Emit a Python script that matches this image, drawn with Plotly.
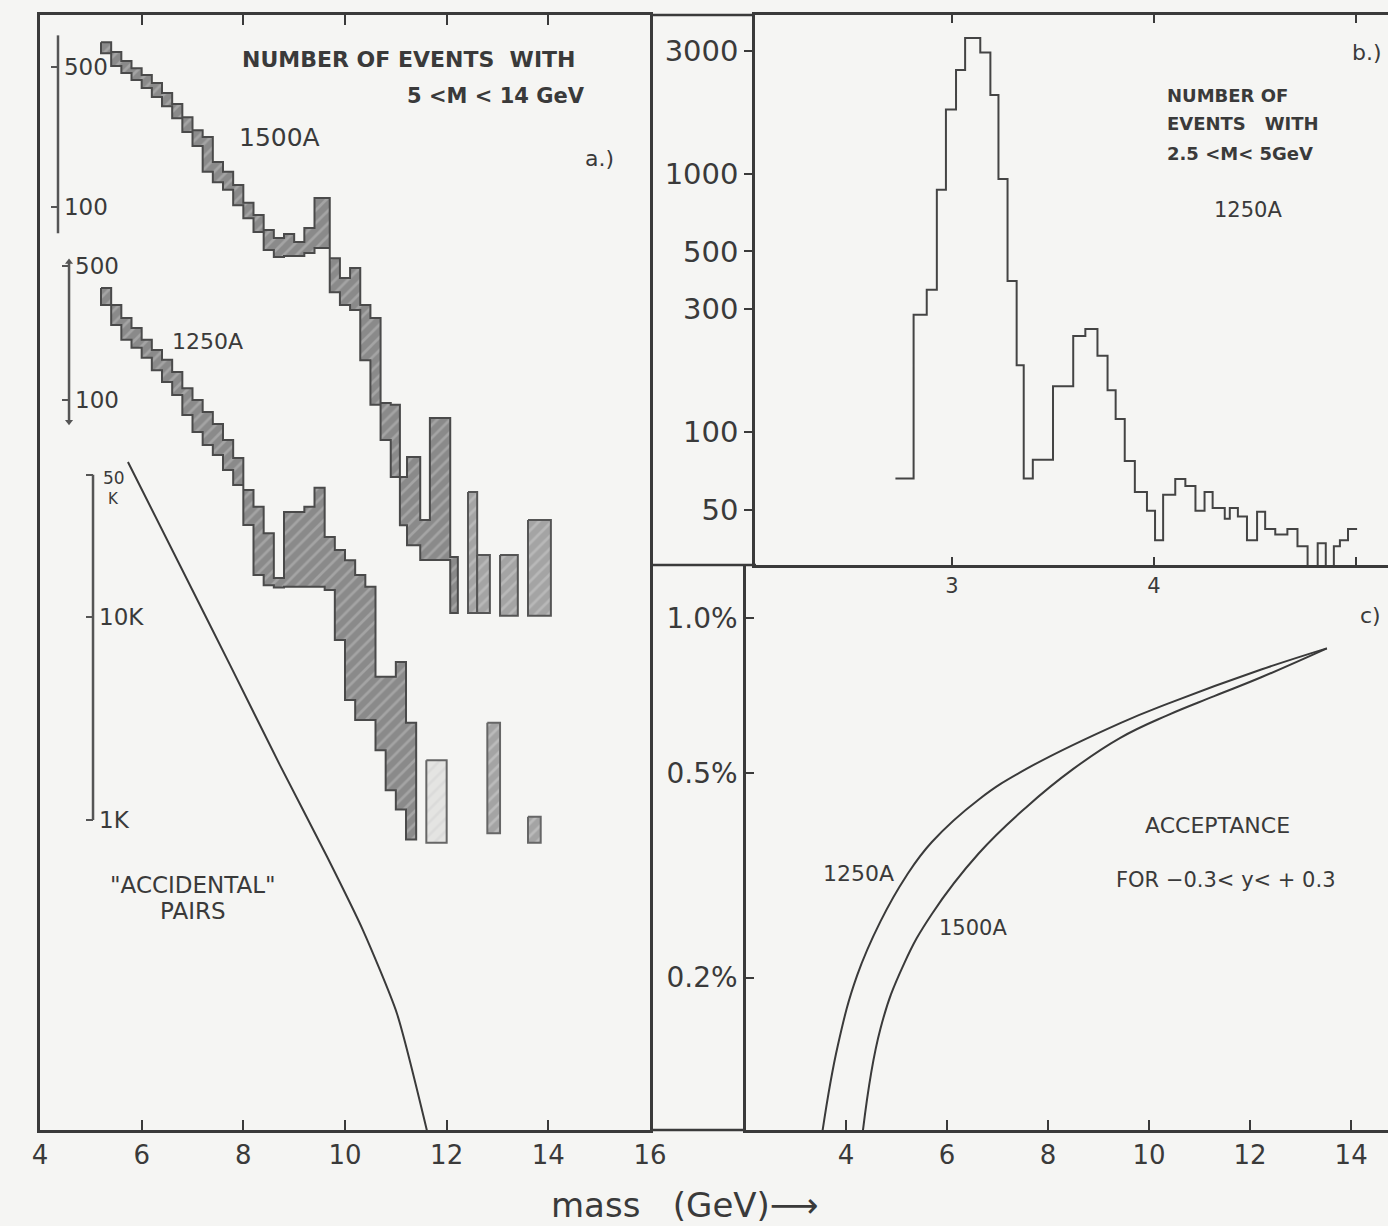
import numpy as np
import plotly.graph_objects as go

W, H = 1388, 1226
INK = '#3a3a3a'
FONT = 'DejaVu Sans'
PAPER = '#f5f5f3'

# ---------------- panel a: events with 5 < M < 14 GeV ----------------
# 1500A setting: shaded band between lower and upper count per mass bin
m1500_edges = [5.2, 5.4, 5.6, 5.8, 6.0, 6.2, 6.4, 6.6, 6.8, 7.0, 7.2, 7.4, 7.6, 7.8,
               8.0, 8.2, 8.4, 8.6, 8.8, 9.0, 9.2, 9.4, 9.7, 9.9, 10.1, 10.3, 10.5,
               10.7, 10.9, 11.08, 11.22, 11.48, 11.67, 12.07, 12.22]
n1500_hi = [666, 594, 536, 494, 456, 416, 371, 327, 281, 242, 224, 168, 150, 129,
            105, 91.2, 76.8, 70, 73.3, 66.9, 78.6, 111, 55.6, 44.2, 49.6, 32.4, 27.9,
            10.5, 10.3, 4.49, 5.65, 2.74, 8.84, 1.79]
n1500_lo = [587, 506, 467, 431, 393, 354, 319, 278, 237, 202, 150, 133, 122, 102,
            88, 75, 61, 56.3, 56.9, 56.9, 58.9, 62.4, 37.6, 32.4, 30.6, 17.2, 10.3,
            6.87, 4.49, 2.58, 2.05, 1.73, 1.73, 0.94]
# isolated high-mass bins (1500A)
m1500_bar_lo = [12.42, 12.60, 13.05, 13.60]
m1500_bar_hi = [12.60, 12.85, 13.40, 14.05]
n1500_bar_top = [3.78, 1.83, 1.83, 2.74]
n1500_bar_bot = [0.94, 0.94, 0.91, 0.91]

# 1250A setting
m1250_edges = [5.2, 5.4, 5.6, 5.8, 6.0, 6.2, 6.4, 6.6, 6.8, 7.0, 7.2, 7.4, 7.6, 7.8,
               8.0, 8.2, 8.4, 8.6, 8.8, 9.0, 9.2, 9.4, 9.6, 9.8, 10.0, 10.2, 10.4,
               10.6, 10.8, 11.0, 11.2, 11.4]
n1250_hi = [384, 313, 268, 237, 206, 182, 162, 140, 115, 100, 86.6, 75, 61.8, 49.8,
            33.9, 27.7, 20.2, 11.8, 26, 26, 27.7, 34.8, 19.3, 16.5, 14.6, 12.2, 10.6,
            3.6, 3.6, 4.3, 2.07]
n1250_lo = [313, 246, 206, 187, 166, 143, 124, 106, 83.5, 68, 58.3, 51.7, 43.1, 36,
            22.3, 12.2, 10.8, 10.5, 10.6, 10.6, 10.6, 10.6, 10.2, 5.6, 2.72, 2.14, 2.14,
            1.49, 0.92, 0.73, 0.51]
m1250_bar_lo = [11.60, 12.80, 13.60]
m1250_bar_hi = [12.00, 13.05, 13.85]
n1250_bar_top = [1.32, 2.07, 0.67]
n1250_bar_bot = [0.49, 0.55, 0.49]

# "accidental" pairs estimate
m_acc = [5.73, 6.75, 7.74, 8.72, 9.65, 10.35, 11.02, 11.61]
n_acc = [57700, 17960, 5780, 1862, 657, 288, 112, 29.8]

# vertical scale bars of panel a (extent in each series' own units)
scale1500 = [74, 720]
scale1250 = [77, 525]
scale_acc = [1000, 50000]
scale_mass = [4.354, 4.571, 5.043]   # mass position of each bar

# ---------------- panel b: events with 2.5 < M < 5 GeV (1250A) ----------------
b_edges = [2.72, 2.81, 2.875, 2.925, 2.97, 3.02, 3.065, 3.14, 3.19, 3.23, 3.275, 3.32,
           3.355, 3.40, 3.50, 3.60, 3.66, 3.72, 3.77, 3.81, 3.855, 3.905, 3.965, 4.005,
           4.045, 4.105, 4.155, 4.205, 4.25, 4.29, 4.35, 4.375, 4.415, 4.46, 4.51, 4.55,
           4.60, 4.66, 4.71, 4.76, 4.81, 4.85, 4.89, 4.92, 4.96, 5.005]
b_counts = [66, 284, 355, 866, 1774, 2525, 3360, 2950, 2020, 955, 384, 181, 66, 78,
            150, 235, 250, 197, 145, 112, 77, 58.5, 49.4, 38, 57, 65.6, 61.7, 49.4,
            58.5, 50.7, 46, 50.7, 47, 38, 49, 42, 40, 42, 36, 29, 37, 29, 36, 38, 42]

# ---------------- panel c: acceptance for -0.3 < y < +0.3 (percent) ----------------
c_mass_1250 = [3.53, 3.84, 4.22, 4.68, 5.20, 5.70, 6.63, 7.57, 9.43, 10.36, 12.22, 13.52]
c_acc_1250 = [0.100, 0.148, 0.202, 0.257, 0.316, 0.367, 0.444, 0.509, 0.625, 0.681, 0.794, 0.873]
c_mass_1500 = [4.33, 4.68, 5.15, 5.70, 6.63, 7.57, 8.50, 9.43, 10.36, 11.29, 12.22, 13.52]
c_acc_1500 = [0.100, 0.159, 0.213, 0.266, 0.349, 0.429, 0.509, 0.585, 0.647, 0.705, 0.767, 0.873]


def px_x(px):
    return px / W


def px_y(py):
    return 1 - py / H


XA = [px_x(40), px_x(650)]
YA = [px_y(1130), px_y(15)]
XB = [px_x(755), 1.0]
YB = [px_y(565), px_y(15)]
XC = [px_x(746), 1.0]
YC = [px_y(1130), px_y(565)]

RANGE_1500 = [-2.608, 2.959]
RANGE_1250 = [-1.808, 4.008]
RANGE_ACC = [1.475, 6.960]


def band_polygon(edges, hi, lo):
    xs, ys = [], []
    for i in range(len(hi)):
        xs += [edges[i], edges[i + 1]]
        ys += [hi[i], hi[i]]
    for i in reversed(range(len(lo))):
        xs += [edges[i + 1], edges[i]]
        ys += [lo[i], lo[i]]
    xs.append(xs[0])
    ys.append(ys[0])
    return xs, ys


def hatched(xs, ys, yaxis, bg, fg, edge):
    return go.Scatter(
        x=xs, y=ys, xaxis='x', yaxis=yaxis, mode='lines', fill='toself',
        line=dict(color=edge, width=2), fillcolor=bg,
        fillpattern=dict(shape='/', bgcolor=bg, fgcolor=fg, size=9, solidity=0.3),
        hoverinfo='skip')


fig = go.Figure()

# 1500A band and isolated bins
xs, ys = band_polygon(m1500_edges, n1500_hi, n1500_lo)
fig.add_trace(hatched(xs, ys, 'y', '#8a8a8a', '#bdbdbd', '#4a4a4a'))
for lo, hi, top, bot in zip(m1500_bar_lo, m1500_bar_hi, n1500_bar_top, n1500_bar_bot):
    xs, ys = band_polygon([lo, hi], [top], [bot])
    fig.add_trace(hatched(xs, ys, 'y', '#a4a4a4', '#cccccc', '#555555'))

# 1250A band and isolated bins
xs, ys = band_polygon(m1250_edges, n1250_hi, n1250_lo)
fig.add_trace(hatched(xs, ys, 'y5', '#8a8a8a', '#bdbdbd', '#4a4a4a'))
bar_fill_1250 = ['#e4e4e2', '#a4a4a4', '#a4a4a4']
for (lo, hi, top, bot), bg in zip(zip(m1250_bar_lo, m1250_bar_hi, n1250_bar_top, n1250_bar_bot), bar_fill_1250):
    xs, ys = band_polygon([lo, hi], [top], [bot])
    fig.add_trace(hatched(xs, ys, 'y5', bg, '#d2d2d2', '#666666'))

# accidental pairs curve
fig.add_trace(go.Scatter(x=m_acc, y=n_acc, xaxis='x', yaxis='y6', mode='lines',
                         line=dict(color=INK, width=2, shape='spline', smoothing=0.6),
                         hoverinfo='skip'))

# scale bars
for m, ext, ax in zip(scale_mass, [scale1500, scale1250, scale_acc], ['y4', 'y5', 'y6']):
    fig.add_trace(go.Scatter(x=[m, m], y=ext, xaxis='x', yaxis=ax, mode='lines',
                             line=dict(color='#555555', width=2.5), hoverinfo='skip'))
fig.add_trace(go.Scatter(x=[scale_mass[1], scale_mass[1]], y=scale1250, xaxis='x', yaxis='y5',
                         mode='markers', marker=dict(symbol=['triangle-down', 'triangle-up'],
                                                     size=7, color='#555555'),
                         hoverinfo='skip'))

# panel b histogram
fig.add_trace(go.Scatter(x=b_edges, y=b_counts + [b_counts[-1]], xaxis='x2', yaxis='y2',
                         mode='lines', line=dict(color='#444444', width=2, shape='hv'),
                         hoverinfo='skip'))

# panel c acceptance curves
for mx, ay in [(c_mass_1250, c_acc_1250), (c_mass_1500, c_acc_1500)]:
    fig.add_trace(go.Scatter(x=mx, y=ay, xaxis='x3', yaxis='y3', mode='lines',
                             line=dict(color=INK, width=2, shape='spline', smoothing=1.2),
                             hoverinfo='skip'))

tickfont = dict(family=FONT, size=26, color=INK)
common = dict(showgrid=False, zeroline=False, linecolor=INK, linewidth=2.5,
              tickcolor=INK, tickwidth=2, automargin=False)


def pos_of(m):
    return XA[0] + (m - 4) / 12 * (XA[1] - XA[0])


scale_axis = dict(showgrid=False, zeroline=False, showline=False, type='log',
                  overlaying='y', anchor='free', side='right', ticks='inside',
                  ticklen=7, tickwidth=2, tickcolor='#555555', automargin=False,
                  ticklabelstandoff=5,
                  tickfont=dict(family=FONT, size=23, color=INK))

fig.update_layout(
    width=W, height=H, autosize=False,
    margin=dict(l=0, r=0, t=0, b=0, pad=0, autoexpand=False),
    paper_bgcolor=PAPER, plot_bgcolor='rgba(0,0,0,0)', showlegend=False,
    xaxis=dict(domain=XA, range=[4, 16], anchor='y', tickvals=[4, 6, 8, 10, 12, 14, 16],
               ticks='inside', ticklen=10, showline=True, mirror='ticks',
               tickfont=tickfont, **common),
    yaxis=dict(domain=YA, type='log', range=RANGE_1500, anchor='x', showline=True,
               mirror=True, ticks='', showticklabels=False, **common),
    yaxis4=dict(range=RANGE_1500, position=pos_of(scale_mass[0]),
                tickvals=[100, 500], ticktext=['100', '500'], **scale_axis),
    yaxis5=dict(range=RANGE_1250, position=pos_of(scale_mass[1]),
                tickvals=[100, 500], ticktext=['100', '500'], **scale_axis),
    yaxis6=dict(range=RANGE_ACC, position=pos_of(scale_mass[2]),
                tickvals=[1000, 10000, 50000], ticktext=['1K', '10K', ''], **scale_axis),
    xaxis2=dict(domain=XB, range=[2.025, 5.158], anchor='y2', tickvals=[3, 4, 5],
                ticktext=['3', '4', ''], ticks='inside', ticklen=8, showline=True,
                mirror='ticks', tickfont=dict(family=FONT, size=21, color=INK), **common),
    yaxis2=dict(domain=YB, type='log', range=[1.484, 3.615], anchor='x2',
                tickvals=[50, 100, 300, 500, 1000, 3000],
                ticktext=['50', '100', '300', '500', '1000', '3000'],
                ticks='outside', ticklen=8, showline=True,
                tickfont=dict(family=FONT, size=29, color=INK), **common),
    xaxis3=dict(domain=XC, range=[2.02, 14.73], anchor='y3',
                tickvals=[4, 6, 8, 10, 12, 14], ticks='inside', ticklen=10,
                showline=True, mirror=False, tickfont=tickfont, **common),
    yaxis3=dict(domain=YC, type='log', range=[-0.995, 0.103], anchor='x3',
                tickvals=[0.2, 0.5, 1.0], ticktext=['0.2%', '0.5%', '1.0%'],
                ticks='inside', ticklen=8, showline=True,
                tickfont=dict(family=FONT, size=28, color=INK), **common),
)

# remaining pieces of the frame between the panels
frame = [((650, 15), (755, 15)), ((650, 565), (756, 565)), ((650, 1130), (746, 1130))]
fig.update_layout(shapes=[
    dict(type='line', xref='paper', yref='paper', x0=px_x(a[0]), y0=px_y(a[1]),
         x1=px_x(b[0]), y1=px_y(b[1]), line=dict(color=INK, width=2.5))
    for a, b in frame])


def note(text, px, py, size, anchor='left', bold=False):
    return dict(text=f'<b>{text}</b>' if bold else text, x=px_x(px), y=px_y(py),
                xref='paper', yref='paper', xanchor=anchor, yanchor='middle',
                showarrow=False, font=dict(family=FONT, size=size, color=INK))


nb = '\u00a0'
fig.update_layout(annotations=[
    note('NUMBER OF' + nb + 'EVENTS' + nb + nb + 'WITH', 240, 60, 22, bold=True),
    note('5 &lt;M &lt; 14 GeV', 405, 96, 21, bold=True),
    note('1500A', 237, 137, 25),
    note('a.)', 583, 158, 22),
    note('1250A', 170, 342, 22),
    note('50', 101, 478, 17),
    note('K', 106, 499, 15),
    note('"ACCIDENTAL"', 193, 885, 23, anchor='center'),
    note('PAIRS', 193, 911, 23, anchor='center'),
    note('NUMBER OF', 1165, 96, 18, bold=True),
    note('EVENTS' + nb * 3 + 'WITH', 1165, 124, 18, bold=True),
    note('2.5 &lt;M&lt;' + nb + '5GeV', 1165, 153, 18, bold=True),
    note('1250A', 1212, 210, 21),
    note('b.)', 1350, 52, 22),
    note('c)', 1358, 615, 22),
    note('ACCEPTANCE', 1217, 825, 22, anchor='center'),
    note('FOR \u22120.3&lt; y&lt; + 0.3', 1226, 880, 21, anchor='center'),
    note('1250A', 858, 873, 22, anchor='center'),
    note('1500A', 973, 928, 21, anchor='center'),
    note('mass' + nb * 3 + '(GeV)\u27f6', 685, 1205, 34, anchor='center'),
])

fig.write_html('out.html', config={'responsive': False})
